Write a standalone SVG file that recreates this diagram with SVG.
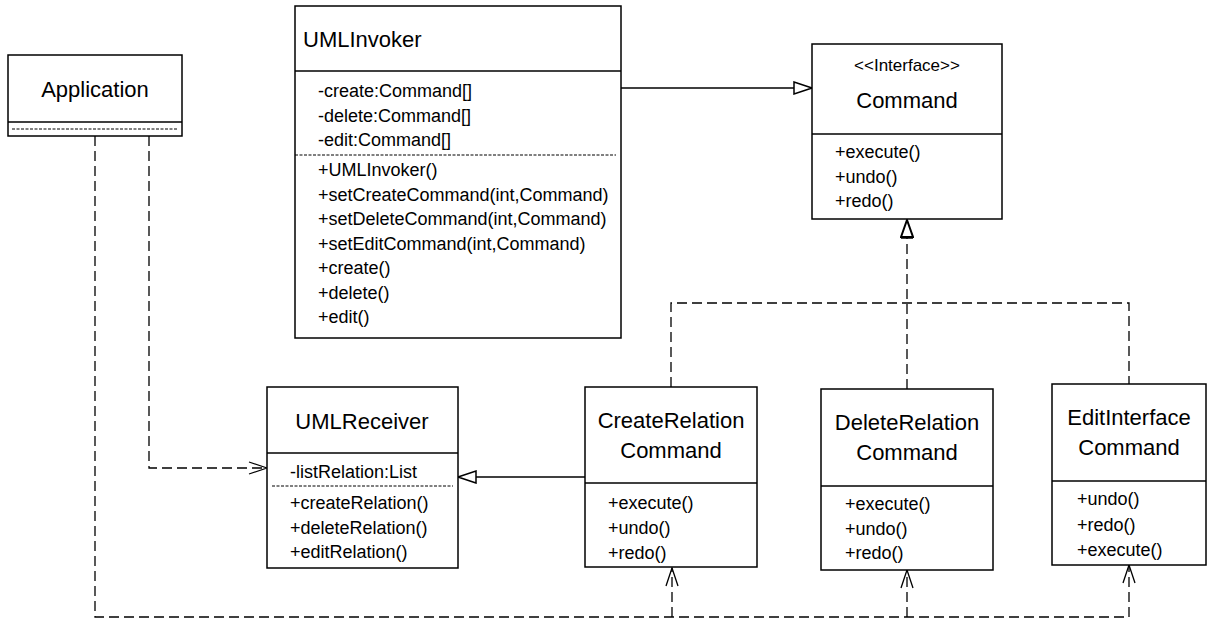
<svg xmlns="http://www.w3.org/2000/svg" width="1208" height="621" viewBox="0 0 1208 621">
<style>
.box{fill:#fff;stroke:#000;stroke-width:1.5}
.div{stroke:#000;stroke-width:1.5}
.sep{stroke:#000;stroke-width:1;stroke-dasharray:3 1.5}
.title{font-family:"Liberation Sans",Arial,sans-serif;font-size:22px;fill:#000}
.mem{font-family:"Liberation Sans",Arial,sans-serif;font-size:18px;fill:#000}
.ster{font-family:"Liberation Sans",Arial,sans-serif;font-size:17px;fill:#000}
.solid{fill:none;stroke:#000;stroke-width:1.3}
.dash{fill:none;stroke:#000;stroke-width:1.3;stroke-dasharray:10 5}
</style>
<defs>
<marker id="tri" viewBox="0 0 20 14" refX="19" refY="7" markerWidth="20" markerHeight="14" markerUnits="userSpaceOnUse" orient="auto">
<path d="M1,1 L19,7 L1,13 Z" fill="#fff" stroke="#000" stroke-width="1.5" stroke-dasharray="none"/>
</marker>
<marker id="tri2" viewBox="0 0 20 14" refX="19" refY="7" markerWidth="20" markerHeight="14" markerUnits="userSpaceOnUse" orient="auto">
<path d="M2,1 L19,7 L2,13 Z" fill="#fff" stroke="#000" stroke-width="2" stroke-dasharray="none"/>
<path d="M0,1 V13" stroke="#000" stroke-width="1.5" stroke-dasharray="none"/>
</marker>
<marker id="open" viewBox="0 0 20 14" refX="19" refY="7" markerWidth="20" markerHeight="14" markerUnits="userSpaceOnUse" orient="auto">
<path d="M1,1 L19,7 L1,13" fill="none" stroke="#000" stroke-width="1.3" stroke-dasharray="none"/>
</marker>
</defs>
<rect width="1208" height="621" fill="#fff"/>

<g id="connectors">
<path class="solid" d="M621,88 H812" marker-end="url(#tri)"/>
<path class="solid" d="M585,477 H458" marker-end="url(#tri)"/>
<path class="dash" d="M907,389 V220" marker-end="url(#tri2)"/>
<path class="dash" d="M671,387 V303 H1129 V384"/>
<path class="dash" d="M149,136 V468 H267" marker-end="url(#open)"/>
<path class="dash" d="M95,136 V617 H1129 V565" marker-end="url(#open)"/>
<path class="dash" d="M672,617 V568" marker-end="url(#open)"/>
<path class="dash" d="M907,617 V570" marker-end="url(#open)"/>
</g>

<g id="Application">
<rect class="box" x="8" y="55" width="174" height="81"/>
<line class="div" x1="8" y1="122" x2="182" y2="122"/>
<line class="sep" x1="12" y1="129" x2="178" y2="129"/>
<text class="title" x="95" y="97" text-anchor="middle">Application</text>
</g>

<g id="UMLInvoker">
<rect class="box" x="295" y="6" width="326" height="332"/>
<line class="div" x1="295" y1="71" x2="621" y2="71"/>
<line class="sep" x1="295" y1="155" x2="616" y2="155"/>
<text class="title" x="303" y="47">UMLInvoker</text>
<text class="mem" x="318" y="97">-create:Command[]</text>
<text class="mem" x="318" y="121.5">-delete:Command[]</text>
<text class="mem" x="318" y="146">-edit:Command[]</text>
<text class="mem" x="318" y="176">+UMLInvoker()</text>
<text class="mem" x="318" y="200.5">+setCreateCommand(int,Command)</text>
<text class="mem" x="318" y="225">+setDeleteCommand(int,Command)</text>
<text class="mem" x="318" y="249.5">+setEditCommand(int,Command)</text>
<text class="mem" x="318" y="274">+create()</text>
<text class="mem" x="318" y="298.5">+delete()</text>
<text class="mem" x="318" y="323">+edit()</text>
</g>

<g id="Command">
<rect class="box" x="812" y="44" width="190" height="175"/>
<line class="div" x1="812" y1="134" x2="1002" y2="134"/>
<text class="ster" x="907" y="71" text-anchor="middle">&lt;&lt;Interface&gt;&gt;</text>
<text class="title" x="907" y="108" text-anchor="middle">Command</text>
<text class="mem" x="835" y="158">+execute()</text>
<text class="mem" x="835" y="182.5">+undo()</text>
<text class="mem" x="835" y="207">+redo()</text>
</g>

<g id="UMLReceiver">
<rect class="box" x="267" y="387" width="191" height="181"/>
<line class="div" x1="267" y1="453" x2="458" y2="453"/>
<line class="sep" x1="272" y1="486" x2="453" y2="486"/>
<text class="title" x="362" y="429" text-anchor="middle">UMLReceiver</text>
<text class="mem" x="290" y="478">-listRelation:List</text>
<text class="mem" x="290" y="509">+createRelation()</text>
<text class="mem" x="290" y="533.5">+deleteRelation()</text>
<text class="mem" x="290" y="558">+editRelation()</text>
</g>

<g id="CreateRelationCommand">
<rect class="box" x="585" y="387" width="172" height="180"/>
<line class="div" x1="585" y1="483" x2="757" y2="483"/>
<text class="title" x="671" y="428" text-anchor="middle">CreateRelation</text>
<text class="title" x="671" y="458" text-anchor="middle">Command</text>
<text class="mem" x="608" y="509">+execute()</text>
<text class="mem" x="608" y="534">+undo()</text>
<text class="mem" x="608" y="559">+redo()</text>
</g>

<g id="DeleteRelationCommand">
<rect class="box" x="821" y="389" width="172" height="181"/>
<line class="div" x1="821" y1="486" x2="993" y2="486"/>
<text class="title" x="907" y="430" text-anchor="middle">DeleteRelation</text>
<text class="title" x="907" y="460" text-anchor="middle">Command</text>
<text class="mem" x="845" y="510">+execute()</text>
<text class="mem" x="845" y="534.5">+undo()</text>
<text class="mem" x="845" y="559">+redo()</text>
</g>

<g id="EditInterfaceCommand">
<rect class="box" x="1052" y="384" width="154" height="181"/>
<line class="div" x1="1052" y1="481" x2="1206" y2="481"/>
<text class="title" x="1129" y="425" text-anchor="middle">EditInterface</text>
<text class="title" x="1129" y="455" text-anchor="middle">Command</text>
<text class="mem" x="1077" y="505">+undo()</text>
<text class="mem" x="1077" y="530.5">+redo()</text>
<text class="mem" x="1077" y="556">+execute()</text>
</g>
</svg>
